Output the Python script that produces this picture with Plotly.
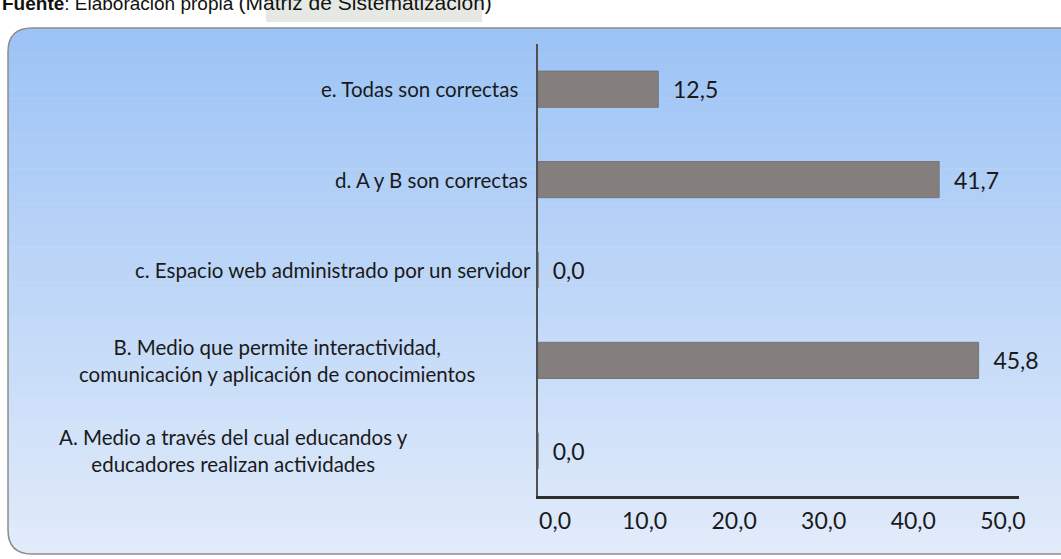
import plotly.graph_objects as go

# datos (de abajo hacia arriba)
categorias = [
    "A. Medio a través del cual educandos y<br>educadores realizan actividades",
    "B. Medio que permite interactividad,<br>comunicación y aplicación de conocimientos",
    "c. Espacio web administrado por un servidor",
    "d. A y B son correctas",
    "e. Todas son correctas",
]
porcentajes = [0.0, 45.8, 0.0, 41.7, 12.5]
ticks_x = [0, 10, 20, 30, 40, 50]

W, H = 1061, 559
L, R, T, B = 538, 1019, 44, 496
FONT = "Lato"


def px(x):
    return (x - L) / (R - L)


def py(y):
    return (B - y) / (B - T)


fig = go.Figure()
fig.add_trace(go.Bar(
    x=porcentajes, y=categorias, orientation="h", width=0.4,
    marker=dict(color="#847e7d", line=dict(color="#76747c", width=1)),
    texttemplate="\u00a0\u00a0%{x:.1f}", textposition="outside",
    textfont=dict(family=FONT, size=23, color="#1a1a1a"),
    cliponaxis=False, hoverinfo="skip",
))
# eje auxiliar solo para las etiquetas (en el original van algo comprimidas)
fig.add_trace(go.Scatter(x=[None], y=[None], xaxis="x2", showlegend=False,
                         hoverinfo="skip"))

# fondo degradado con esquinas redondeadas
shapes = []
top, bot, left, right, rad = 28, 554, 8, 1080, 24
c0, c1 = (156, 195, 245), (225, 235, 250)
n = 60
for i in range(n):
    f = i / (n - 1)
    col = "rgb(%d,%d,%d)" % tuple(round(a + (b - a) * f) for a, b in zip(c0, c1))
    y0 = top + (bot - top) * i / n
    y1 = top + (bot - top) * (i + 1) / n + 0.5
    shapes.append(dict(type="rect", xref="paper", yref="paper", layer="below",
                       x0=px(left), x1=px(right), y0=py(y0), y1=py(y1),
                       fillcolor=col, line=dict(width=0)))


def pt(x, y):
    return "%f,%f" % (px(x), py(y))


mask_tl = "M %s L %s Q %s %s Z" % (pt(left - 1, top - 1), pt(left + rad, top - 1),
                                   pt(left, top), pt(left - 1, top + rad))
mask_bl = "M %s L %s Q %s %s Z" % (pt(left - 1, bot + 1), pt(left + rad, bot + 1),
                                   pt(left, bot), pt(left - 1, bot - rad))
for p in (mask_tl, mask_bl):
    shapes.append(dict(type="path", path=p, xref="paper", yref="paper", layer="below",
                       fillcolor="white", line=dict(width=0)))
borde = "M %s L %s Q %s %s L %s Q %s %s L %s" % (
    pt(right, top), pt(left + rad, top), pt(left, top), pt(left, top + rad),
    pt(left, bot - rad), pt(left, bot), pt(left + rad, bot), pt(right, bot))
shapes.append(dict(type="path", path=borde, xref="paper", yref="paper", layer="below",
                   line=dict(color="#8c8c8c", width=1.5)))
# sombreado detrás de "(Matriz de Sistematización)"
shapes.append(dict(type="rect", xref="paper", yref="paper", layer="below",
                   x0=px(266), x1=px(482), y0=py(22), y1=py(0),
                   fillcolor="rgba(200,206,192,0.45)", line=dict(width=0)))

# etiquetas de categorías (centradas como en el original)
bordes_der = [410, 477, 533, 530, 520]
annotations = []
for cat, xr in zip(categorias, bordes_der):
    annotations.append(dict(text=cat, x=px(xr), y=cat, xref="paper", yref="y",
                            xanchor="right", yanchor="middle", align="center",
                            showarrow=False,
                            font=dict(family=FONT, size=20.5, color="#1a1a1a")))

annotations.append(dict(
    text="<b>Fuente</b>: Elaboración propia "
         "<span style='font-size:21px'>(Matriz de Sistematización)</span>",
    x=px(0), y=py(16), xref="paper", yref="paper", xanchor="left", yanchor="bottom",
    showarrow=False, font=dict(family="Liberation Sans, Arial", size=19, color="#111")))

fig.update_layout(
    width=W, height=H,
    margin=dict(l=L, r=W - R, t=T, b=H - B),
    paper_bgcolor="white", plot_bgcolor="rgba(0,0,0,0)",
    separators=",.",
    showlegend=False,
    shapes=shapes, annotations=annotations,
    xaxis=dict(range=[0, 50], showticklabels=False,
               showgrid=False, zeroline=False, ticks="",
               showline=True, linecolor="#2e2e2e", linewidth=3),
    xaxis2=dict(range=[-1.9, 51.8], overlaying="x", side="bottom",
                tickvals=ticks_x, tickformat=".1f",
                showgrid=False, zeroline=False, ticks="", showline=False,
                ticklabelstandoff=9,
                tickfont=dict(family=FONT, size=23, color="#1a1a1a")),
    yaxis=dict(range=[-0.5, 4.5], showticklabels=False, showgrid=False,
               zeroline=False, ticks="", showline=True,
               linecolor="#505050", linewidth=2),
)

fig.write_html("out.html", config={"displayModeBar": False},
               post_script="document.body.style.margin='0';")
